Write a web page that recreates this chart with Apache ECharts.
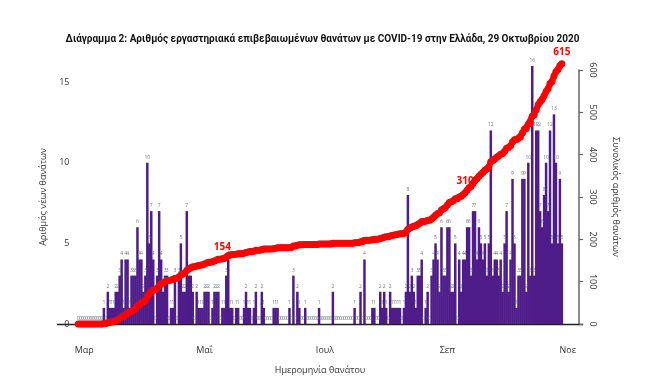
<!DOCTYPE html>
<html><head><meta charset="utf-8">
<script src="https://cdn.jsdelivr.net/npm/echarts@6/dist/echarts.min.js"></script>
<style>html,body{margin:0;padding:0;background:#fff}#c{width:645px;height:387px}</style>
</head><body><div id="c"></div>
<script>
const titleText = 'Διάγραμμα 2: Αριθμός εργαστηριακά επιβεβαιωμένων θανάτων με COVID-19 στην Ελλάδα, 29 Οκτωβρίου 2020';
const axisStart = '2020-02-17';
const axisEnd = '2020-11-08';
const dataStart = '2020-02-27';
// daily deaths by date of death
const deathsFeb = [0,0,0];
const deathsMar = [0,0,0,0,0,0,0,0,0,0, 1,0,2,1,1,1,2,2,3,4, 1,4,4,1,3,3,3,6,4,4, 2];
const deathsApr = [3,10,5,7,4,0,3,7,4, 2,3,3,0,1,1,3,0,3,5, 2,2,7,3,3,2,0,2,1,1,1];
const deathsMay = [2,2,2,0,1,2,2,2,0,1, 1,3,4,1,1,0,1,1,0,0, 1,2,1,1,0,1,2,0,0,2,1];
const deathsJun = [0,0,0,0,1,1,1,0,0,0, 0,0,1,0,3,0,2,1,0,0, 1,0,0,0,0,0,0,1,0,0];
const deathsJul = [0,0,0,0,2,0,0,0,0,0, 0,0,0,0,0,1,0,0,2,0, 4,0,0,0,1,1,0,0,2,1,2];
const deathsAug = [1,0,2,1,1,1,1,1,0,1, 2,8,2,3,2,1,3,3,4,0, 1,2,0,3,4,5,4,2,6,3,3];
const deathsSep = [6,6,2,2,5,0,4,2,4,4, 6,6,3,7,7,4,6,5,4,5, 3,5,12,3,4,4,3,4,2,5];
const deathsOct = [7,2,4,9,5,1,3,3,9,9, 2,10,3,16,3,12,12,7,6,8, 10,7,12,5,13,10,5,9,5];
const tickDates = ['2020-03-01','2020-05-01','2020-07-01','2020-09-01','2020-11-01'];
const tickLabels = ['Μαρ','Μαΐ','Ιουλ','Σεπ','Νοε'];
const leftTicks = [0,5,10,15];
const rightTicks = [0,100,200,300,400,500,600];
const cumulativeMarks = [154,310,615];

function addDays(s, n){ const d = new Date(s+'T00:00:00Z'); d.setUTCDate(d.getUTCDate()+n); return d.toISOString().slice(0,10); }
const categories = [];
for (let d = axisStart; d <= axisEnd; d = addDays(d,1)) categories.push(d);
const daily = [].concat(deathsFeb, deathsMar, deathsApr, deathsMay, deathsJun, deathsJul, deathsAug, deathsSep, deathsOct);
const startIdx = categories.indexOf(dataStart);
const inRange = i => i >= startIdx && i < startIdx + daily.length;
const barData = categories.map((c,i) => inRange(i) ? daily[i-startIdx] : null);
let run = 0;
const cumData = categories.map((c,i) => { if (inRange(i)) { run += daily[i-startIdx]; return run; } return null; });
const markIdx = cumulativeMarks.map(m => cumData.findIndex(v => v !== null && v >= m));
const lineData = cumData.map((v,i) => markIdx.includes(i) ? {value:v, label:{show:true}} : v);

const baseFont = "'Open Sans', 'Noto Sans', sans-serif";
const chart = echarts.init(document.getElementById('c'), null, {renderer:'canvas'});
chart.setOption({
  animation: false,
  backgroundColor: '#ffffff',
  textStyle: {fontFamily: baseFont},
  title: {text: titleText, left: 'center', top: 29,
    textStyle: {fontSize: 10, fontWeight: 'bold', color: '#111', fontFamily: "Roboto, sans-serif"}},
  grid: {left: 57.5, right: 62.4, top: 70, bottom: 63},
  xAxis: {type: 'category', data: categories, boundaryGap: true, offset: 10,
    axisLine: {lineStyle: {color: '#222', width: 1.3}},
    axisTick: {alignWithLabel: true, interval: (i,v) => tickDates.includes(v), length: 4, lineStyle: {color: '#222', width: 1.3}},
    axisLabel: {interval: (i,v) => tickDates.includes(v), formatter: v => tickLabels[tickDates.indexOf(v)] || '', fontSize: 9, color: '#333', margin: 12},
    name: 'Ημερομηνία θανάτου', nameLocation: 'middle', nameGap: 32, nameTextStyle: {fontSize: 9, color: '#333'}},
  yAxis: [
    {type: 'value', min: 0, max: 15.75, position: 'left', offset: -18,
      axisLine: {show: false},
      axisTick: {show: false},
      axisLabel: {customValues: leftTicks, fontSize: 9, color: '#333', margin: 6},
      splitLine: {show: false},
      name: 'Αριθμός νέων θανάτων', nameLocation: 'middle', nameGap: 26, nameRotate: 90, nameTextStyle: {fontSize: 9, color: '#333'}},
    {type: 'value', min: 0, max: 600, position: 'right', offset: -3.5,
      axisLine: {show: true, lineStyle: {color: '#666', width: 1.5}},
      axisTick: {show: true, customValues: rightTicks, length: 4, lineStyle: {color: '#666', width: 1.2}},
      axisLabel: {customValues: rightTicks, fontSize: 9, color: '#333', margin: 9, rotate: -90},
      splitLine: {show: false},
      name: 'Συνολικός αριθμός θανάτων', nameLocation: 'middle', nameGap: 32, nameRotate: -90, nameTextStyle: {fontSize: 9, color: '#333'}}
  ],
  series: [
    {type: 'bar', data: barData, barWidth: 2.5, clip: false, z: 2,
      itemStyle: {color: '#4f1d89'},
      label: {show: true, position: 'top', distance: 3, fontSize: 5, color: '#6f7785'}},
    {type: 'line', yAxisIndex: 1, data: lineData, clip: false, z: 5,
      symbol: 'circle', symbolSize: 7, showAllSymbol: true,
      itemStyle: {color: '#ff0000'}, lineStyle: {color: '#ff0000', width: 6},
      label: {show: false, position: 'top', distance: 3, color: '#ff0000', fontWeight: 'bold', fontSize: 10}}
  ]
});
</script></body></html>
